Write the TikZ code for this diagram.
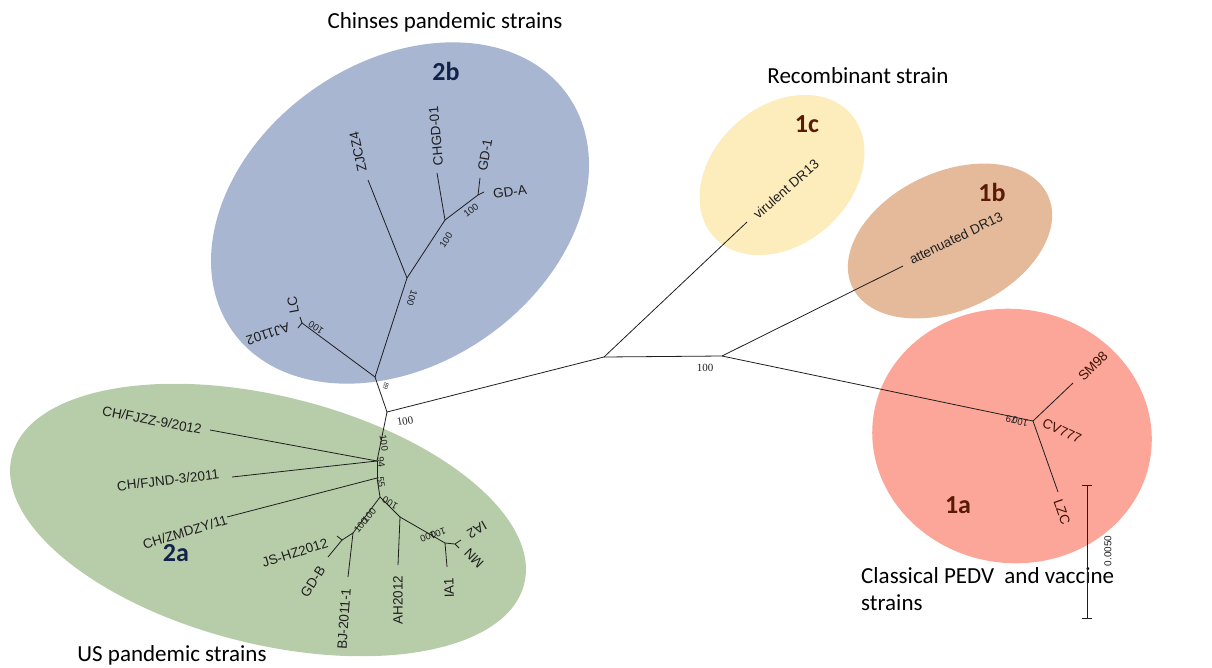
\documentclass[tikz,border=0pt]{standalone}
\usepackage{fontspec}
\setmainfont{Liberation Sans}
\newfontfamily\calibrifont{Carlito}
\newfontfamily\bootserif{Liberation Serif}
\definecolor{c2b}{HTML}{A8B6D2}
\definecolor{c2a}{HTML}{B7CCA9}
\definecolor{c1c}{HTML}{FDEDBD}
\definecolor{c1b}{HTML}{E5BA9B}
\definecolor{c1a}{HTML}{FBA698}
\definecolor{lab1}{HTML}{5A1A08}
\definecolor{lab2}{HTML}{13224A}
\definecolor{ink}{HTML}{1E1E1E}
\tikzset{
  branch/.style={draw=ink, line width=0.8pt},
  leaf/.style={font=\fontsize{13.5}{14}\selectfont, text=ink, inner sep=0pt},
  boot/.style={font=\fontsize{9.5}{10}\selectfont, text=ink, inner sep=0pt},
  bootS/.style={font=\bootserif\fontsize{11}{12}\selectfont, text=ink, inner sep=0pt},
  clab/.style={font=\calibrifont\bfseries\fontsize{26}{28}\selectfont, inner sep=0pt},
  title/.style={font=\calibrifont\fontsize{23}{27}\selectfont, text=black, inner sep=0pt}
}
\begin{document}
\begin{tikzpicture}[x=1pt,y=-1pt]
\useasboundingbox (0,0) rectangle (1212,667);
% cluster ellipses
\fill[c2b, rotate around={35:(400,213)}] (400,213) ellipse [x radius=205, y radius=151];
\fill[c2a, rotate around={-14:(268,520)}] (268,520) ellipse [x radius=264, y radius=124];
\fill[c1c, rotate around={42:(782,175)}] (782,175) ellipse [x radius=92, y radius=69];
\fill[c1b, rotate around={25:(950,241)}] (950,241) ellipse [x radius=108, y radius=69];
\fill[c1a, rotate around={-8:(1012,436)}] (1012,436) ellipse [x radius=140, y radius=127];

% internal nodes
\coordinate (A) at (387,412);
\coordinate (B) at (375,377);
\coordinate (C) at (604,357);
\coordinate (D) at (722,356);
\coordinate (E) at (1033,421);
\coordinate (F) at (302,323);
\coordinate (G) at (407,278);
\coordinate (H) at (445,220);
\coordinate (I) at (478,195);
\coordinate (J1) at (377,461);
\coordinate (J2) at (377,478);
\coordinate (K) at (380,497);
\coordinate (L) at (353,533);
\coordinate (P) at (342,540);
\coordinate (M) at (400,517);
\coordinate (N) at (445,543);
\coordinate (N2) at (455,544);
% tips
\coordinate (tVir) at (747,222);
\coordinate (tAtt) at (903,266);
\coordinate (tSM) at (1073,383);
\coordinate (tLZC) at (1058,492);
\coordinate (tLC) at (300,317);
\coordinate (tAJ) at (298,328);
\coordinate (tZJ) at (368,180);
\coordinate (tCH) at (437,173);
\coordinate (tGD1) at (480,178);
\coordinate (tGDA) at (484,192);
\coordinate (tFJZZ) at (210,430);
\coordinate (tFJND) at (232,477);
\coordinate (tZM) at (227,517);
\coordinate (tJS) at (337,536);
\coordinate (tGDB) at (328,557);
\coordinate (tBJ) at (348,577);
\coordinate (tAH) at (398,565);
\coordinate (tIA1) at (447,567);
\coordinate (tIA2) at (461,540);
\coordinate (tMN) at (459,548);

% branches
\draw[branch] (A) -- (B);
\draw[branch] (A) -- (C);
\draw[branch] (C) -- (D);
\draw[branch] (C) -- (tVir);
\draw[branch] (D) -- (tAtt);
\draw[branch] (D) -- (E);
\draw[branch] (E) -- (tSM);
\draw[branch] (E) -- (tLZC);
\draw[branch] (B) -- (F);
\draw[branch] (F) -- (tLC);
\draw[branch] (F) -- (tAJ);
\draw[branch] (B) -- (G);
\draw[branch] (G) -- (tZJ);
\draw[branch] (G) -- (H);
\draw[branch] (H) -- (tCH);
\draw[branch] (H) -- (I);
\draw[branch] (I) -- (tGD1);
\draw[branch] (I) -- (tGDA);
\draw[branch] (A) -- (J1);
\draw[branch] (J1) -- (tFJZZ);
\draw[branch] (J1) -- (tFJND);
\draw[branch] (J1) -- (J2);
\draw[branch] (J2) -- (tZM);
\draw[branch] (J2) -- (K);
\draw[branch] (K) -- (L);
\draw[branch] (L) -- (P);
\draw[branch] (P) -- (tJS);
\draw[branch] (P) -- (tGDB);
\draw[branch] (L) -- (tBJ);
\draw[branch] (K) -- (M);
\draw[branch] (M) -- (tAH);
\draw[branch] (M) -- (N);
\draw[branch] (N) -- (tIA1);
\draw[branch] (N) -- (N2);
\draw[branch] (N2) -- (tIA2);
\draw[branch] (N2) -- (tMN);

% leaf labels
\node[leaf, rotate=41] (lVir) at (786,189) {virulent DR13};
\node[leaf, rotate=26] (lAtt) at (956,238) {attenuated DR13};
\node[leaf, text=lab1!70!black, rotate=45] (lSM) at (1093,366) {SM98};
\node[leaf, text=lab1!70!black, rotate=-25] (lCV) at (1062,431) {CV777};
\node[leaf, text=lab1!70!black, rotate=-71] (lLZC) at (1062,512) {LZC};
\node[leaf, rotate=100] (lLC) at (293,305) {LC};
\node[leaf, rotate=198] (lAJ) at (268,334) {AJ1102};
\node[leaf, rotate=102] (lZJ) at (358,152) {ZJCZ4};
\node[leaf, rotate=95] (lCH) at (436,136) {CHGD-01};
\node[leaf, rotate=80] (lGD1) at (485,155) {GD-1};
\node[leaf, rotate=8] (lGDA) at (510,192) {GD-A};
\node[leaf, rotate=-11] (lFJZZ) at (152,420) {CH/FJZZ-9/2012};
\node[leaf, rotate=7] (lFJND) at (168,480) {CH/FJND-3/2011};
\node[leaf, rotate=17] (lZM) at (185,532) {CH/ZMDZY/11};
\node[leaf, rotate=18] (lJS) at (295,553) {JS-HZ2012};
\node[leaf, rotate=57] (lGDB) at (313,582) {GD-B};
\node[leaf, rotate=86] (lBJ) at (344,619) {BJ-2011-1};
\node[leaf, rotate=90] (lAH) at (398,600) {AH2012};
\node[leaf, rotate=92] (lIA1) at (449,588) {IA1};
\node[leaf, rotate=210] (lIA2) at (477,530) {IA2};
\node[leaf, rotate=135] (lMN) at (474,558) {MN};

% bootstrap labels
\node[bootS, rotate=10] (bA) at (405,421) {100};
\node[bootS] (bD) at (705,368) {100};
\node[boot, font=\bootserif\fontsize{7}{8}\selectfont, rotate=-100] (bB) at (386,386) {89};
\node[boot, rotate=168] (bE) at (1017,421) {100\kern-4pt79};
\node[boot, rotate=146] (bF) at (316,328) {100};
\node[boot, rotate=-108] (bG) at (412,298) {100};
\node[boot, rotate=57] (bH) at (446,240) {100};
\node[boot, rotate=37] (bI) at (471,210) {100};
\node[boot, rotate=-82] (bJ1) at (384,443) {100};
\node[boot, rotate=-82] (bJ2) at (381,462) {94};
\node[boot, rotate=-82] (bJ3) at (381,482) {55};
\node[boot, rotate=50] (bL) at (365,520) {100\kern-3pt100};
\node[boot, rotate=150] (bK) at (390,503) {100};
\node[boot, rotate=200] (bN) at (433,535) {100\kern-5pt100};

% cluster labels
\node[clab, text=lab2] (k2b) at (446,71) {2b};
\node[clab, text=lab2] (k2a) at (176,553) {2a};
\node[clab, text=lab1] (k1c) at (807,124) {1c};
\node[clab, text=lab1] (k1b) at (992,192) {1b};
\node[clab, text=lab1] (k1a) at (958,505) {1a};

% titles
\node[title] (tt2b) at (445,22) {Chinses pandemic strains};
\node[title] (tt1c) at (858,76) {Recombinant strain};
\node[title] (tt2a) at (172,655) {US pandemic strains};
\node[title, anchor=north west, align=left] (tt1a) at (861,567) {Classical PEDV\ \ and vaccine\\strains};

% scale bar
\coordinate (s1) at (1087,485);
\coordinate (s2) at (1087,618);
\draw[branch] (s1) -- (s2);
\draw[branch] ([xshift=-5pt]s1) -- ([xshift=5pt]s1);
\draw[branch] ([xshift=-5pt]s2) -- ([xshift=5pt]s2);
\node[boot, font=\fontsize{10}{11}\selectfont, rotate=90] (sc) at (1108,551) {0.0050};
\end{tikzpicture}
\end{document}
